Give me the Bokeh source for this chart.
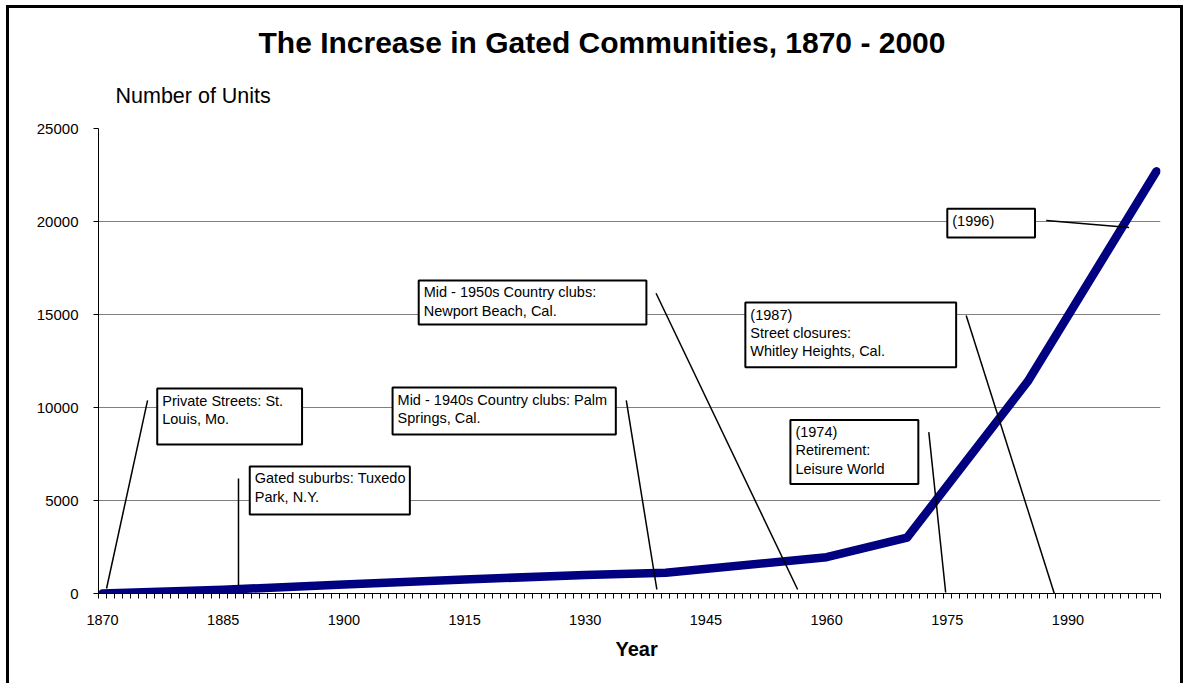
from bokeh.plotting import figure
from bokeh.models import FixedTicker, Range1d, ColumnDataSource, Title
from bokeh.core.properties import value
from bokeh.embed import file_html
from bokeh.resources import INLINE

# ---- data ----
years = [1870, 1885, 1900, 1915, 1930, 1940, 1960, 1970, 1985, 2001]
units = [0, 200, 480, 750, 1000, 1120, 1950, 3000, 11400, 22700]

first_year, last_year = 1870, 2001
x_tick_years = [1870, 1885, 1900, 1915, 1930, 1945, 1960, 1975, 1990]
y_ticks = [0, 5000, 10000, 15000, 20000, 25000]
grid_values = [5000, 10000, 15000, 20000]

title_text = "The Increase in Gated Communities, 1870 - 2000"
y_title = "Number of Units"
x_title = "Year"

note_texts = [
    "Private Streets: St.\nLouis, Mo.",
    "Gated suburbs: Tuxedo\nPark, N.Y.",
    "Mid - 1940s Country clubs: Palm\nSprings, Cal.",
    "Mid - 1950s Country clubs:\nNewport Beach, Cal.",
    "(1974)\nRetirement:\nLeisure World",
    "(1987)\nStreet closures:\nWhitley Heights, Cal.",
    "(1996)",
]
box_left = [1876.8, 1888.3, 1906.05, 1909.3, 1955.5, 1949.9, 1975.0]
box_right = [1894.8, 1908.2, 1933.8, 1937.6, 1971.4, 1976.1, 1985.9]
box_top = [11020, 6830, 11075, 16830, 9330, 15645, 20680]
box_bottom = [8010, 4250, 8550, 14460, 5890, 12170, 19140]
lead_x0 = [1875.6, 1886.9, 1935.1, 1938.8, 1972.7, 1977.35, 1987.3]
lead_y0 = [10380, 6180, 10380, 16140, 8680, 14945, 20050]
lead_x1 = [1870.5, 1886.9, 1938.9, 1956.4, 1974.8, 1988.3, 1997.6]
lead_y1 = [270, 430, 215, 215, 55, 0, 19680]

FONT = "Liberation Sans"

p = figure(
    width=1177, height=678,
    output_backend="svg", toolbar_location=None,
    x_range=Range1d(first_year - 0.5, last_year + 0.5),
    y_range=Range1d(y_ticks[0], y_ticks[-1]),
    min_border_left=89, min_border_right=26,
    min_border_top=120, min_border_bottom=93,
)
p.styles = {
    "margin-left": "6px", "margin-top": "5px",
    "border-left": "3px solid black", "border-top": "3px solid black",
    "border-right": "3px solid black",
}
p.outline_line_color = None
p.background_fill_color = "white"
p.border_fill_color = "white"

# axes
xa = p.xaxis[0]
xa.ticker = FixedTicker(
    ticks=x_tick_years,
    minor_ticks=[first_year - 0.5 + i for i in range(last_year - first_year + 2)],
)
xa.major_tick_line_color = None
xa.major_tick_out = 0
xa.major_tick_in = 0
xa.minor_tick_out = 5
xa.minor_tick_in = 0
xa.minor_tick_line_color = "black"
xa.axis_line_color = "black"
xa.major_label_standoff = 16
xa.major_label_text_font = FONT
xa.major_label_text_font_size = "14.5px"
xa.major_label_text_color = "black"

ya = p.yaxis[0]
ya.ticker = FixedTicker(ticks=y_ticks)
ya.major_tick_out = 5
ya.major_tick_in = 0
ya.minor_tick_line_color = None
ya.axis_line_color = "black"
ya.major_label_standoff = 15
ya.major_label_text_font = FONT
ya.major_label_text_font_size = "15px"
ya.major_label_text_color = "black"

p.xgrid.visible = False
p.ygrid.ticker = FixedTicker(ticks=grid_values)
p.ygrid.grid_line_color = "#808080"
p.ygrid.grid_line_width = 1

# titles as layout panels
p.add_layout(Title(text=y_title, align="left", offset=17, standoff=41,
                   text_font=FONT, text_font_style="normal", text_font_size="21.5px",
                   text_color="black"), "above")
p.add_layout(Title(text=title_text, align="left", offset=160, standoff=6,
                   text_font=FONT, text_font_style="bold", text_font_size="30px",
                   text_color="black"), "above")
p.add_layout(Title(text=x_title, align="left", offset=517, standoff=16,
                   text_font=FONT, text_font_style="bold", text_font_size="20px",
                   text_color="black"), "below")

# series
p.line(years, units, line_color="#000080", line_width=8.5,
       line_cap="round", line_join="round")

# annotation boxes, leader lines and texts
boxes = ColumnDataSource(dict(l=box_left, r=box_right, t=box_top, b=box_bottom,
                              txt=note_texts))
p.quad(left="l", right="r", top="t", bottom="b", source=boxes,
       fill_color="white", line_color="black", line_width=2)
p.segment(x0=lead_x0, y0=lead_y0, x1=lead_x1, y1=lead_y1,
          line_color="black", line_width=1.5)
p.text(x="l", y="t", text="txt", source=boxes, x_offset=5, y_offset=4,
       text_font=value(FONT), text_font_size="14.5px", text_color="black",
       text_baseline="top", text_align="left", text_line_height=1.15)

open("out.html", "w").write(file_html(p, INLINE))
